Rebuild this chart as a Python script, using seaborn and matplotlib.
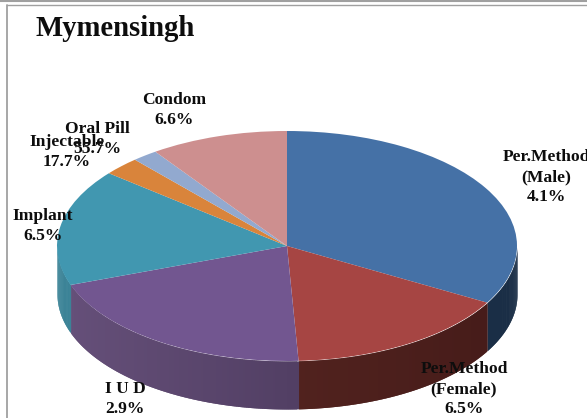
import numpy as np
import seaborn as sns
import matplotlib
matplotlib.use("Agg")
import matplotlib.pyplot as plt
from matplotlib.colors import to_rgb

# slice sizes (the printed labels do not match them)
methods = ["Per.Method\n(Male)", "Per.Method\n(Female)", "I U D", "Implant", "Injectable", "Oral Pill", "Condom"]
printed_pct = ["4.1%", "6.5%", "2.9%", "6.5%", "17.7%", "55.7%", "6.6%"]
slice_sizes = [33.2, 16.0, 20.3, 16.4, 2.6, 1.8, 9.7]

top_colors = ["#4571a6", "#a64543", "#725690", "#4197b0", "#d9843b", "#92a9cf", "#cd8f8f"]
wall_left = ["#1a2e46", "#5e2a24", "#66507a", "#3b8397", "#d9843b", "#92a9cf", "#cd8f8f"]
wall_right = ["#1a2e46", "#451b19", "#3f2f4f", "#3b8397", "#d9843b", "#92a9cf", "#cd8f8f"]

# label centres in image pixels
label_px = [(546, 177), (464, 389), (125, 399), (43, 226), (67, 152), (97, 139), (174, 110)]

W, H = 587, 418
CX, CY, RX, RY, DEPTH = 287, 246, 230, 115, 48

sns.set_theme(style="white")
plt.rcParams["font.family"] = ["Liberation Serif", "DejaVu Serif"]

fig = plt.figure(figsize=(W / 100, H / 100), dpi=100, facecolor="white")
ax = fig.add_axes([0, 0, 1, 1])


def to_axes(px, py):
    return px / W, 1 - py / H


# pie wall, front half only
edges = np.cumsum([0] + slice_sizes) / sum(slice_sizes) * 360
depth = DEPTH / RY
for i in range(len(slice_sizes)):
    start = max(edges[i], 90)
    stop = min(edges[i + 1], 270)
    if stop <= start:
        continue
    angles = np.radians(np.linspace(start, stop, int(stop - start) * 2 + 2))
    left = np.array(to_rgb(wall_left[i]))
    right = np.array(to_rgb(wall_right[i]))
    # strips overlap the next one so no seams show
    for j in range(len(angles) - 1):
        seg = angles[j:min(j + 3, len(angles))]
        t = (np.sin(seg[0]) + 1) / 2
        col = left + (right - left) * t
        ax.fill_between(np.sin(seg), np.cos(seg), np.cos(seg) - depth,
                        color=col, lw=0, zorder=1)

palette = sns.color_palette(top_colors)
ax.pie(slice_sizes, colors=palette, startangle=90, counterclock=False,
       radius=1, wedgeprops={"linewidth": 0, "zorder": 2})

# pie() forces an equal aspect, the tilt comes from the limits here
ax.set_aspect("auto")
ax.set_xlim(-CX / RX, (W - CX) / RX)
ax.set_ylim(-(H - CY) / RY, CY / RY)
ax.axis("off")

for name, pct, (px, py) in zip(methods, printed_pct, label_px):
    x, y = to_axes(px, py)
    ax.text(x, y, name + "\n" + pct, transform=ax.transAxes, ha="center", va="center",
            fontsize=12.6, fontweight="bold", color="#0d0d0d", linespacing=1.32, zorder=5)

x, y = to_axes(35, 29)
ax.text(x, y, "Mymensingh", transform=ax.transAxes, ha="left", va="center",
        fontsize=20.7, fontweight="bold", color="#0d0d0d", zorder=5)

# frame left over from the page the chart was cut from
for px0, py0, px1, py1, lw in [(0, 1, W, 1, 1.5), (7, 4.5, W, 4.5, 1.0), (7, 4.5, 7, H, 1.3)]:
    x0, y0 = to_axes(px0, py0)
    x1, y1 = to_axes(px1, py1)
    ax.plot([x0, x1], [y0, y1], transform=ax.transAxes, color="#a0a0a0", lw=lw, zorder=6, clip_on=False)

fig.savefig("out.png", dpi=100)
